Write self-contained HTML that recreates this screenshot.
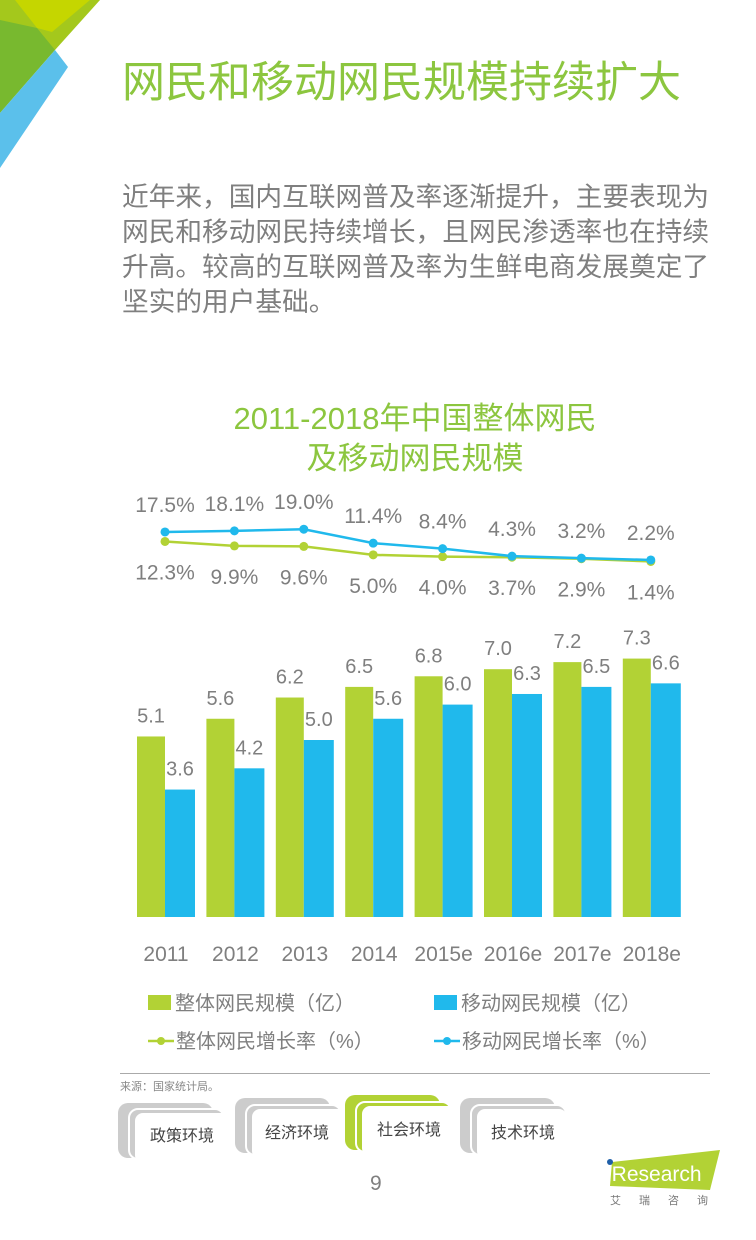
<!DOCTYPE html>
<html><head><meta charset="utf-8">
<style>
html,body{margin:0;padding:0;background:#fff;}
body{width:756px;height:1240px;position:relative;overflow:hidden;font-family:"Liberation Sans","Noto Sans CJK SC",sans-serif;}
.abs{position:absolute;white-space:nowrap;}
</style></head><body>
<svg class="abs" style="left:0;top:0" width="110" height="175">
<polygon points="0,0 100,0 55,50 0,50" fill="#a4c81c"/>
<polygon points="15,0 90,0 52,32 37,28" fill="#c5d600"/>
<polygon points="0,20 37,28 55,50 0,113" fill="#78b92f"/>
<polygon points="55,50 68,67 0,168 0,113" fill="#5bc0eb"/>
</svg>
<div class="abs" style="left:122px;top:48px;font-size:43px;color:#8cc63f;">网民和移动网民规模持续扩大</div>
<div class="abs" style="left:122px;top:180px;font-size:26.7px;line-height:35px;color:#7f7f7f;white-space:normal;width:600px;">近年来，国内互联网普及率逐渐提升，主要表现为<br>网民和移动网民持续增长，且网民渗透率也在持续<br>升高。较高的互联网普及率为生鲜电商发展奠定了<br>坚实的用户基础。</div>
<div class="abs" style="left:215px;width:400px;text-align:center;top:399px;font-size:31px;line-height:40px;color:#8cc63f;">2011-2018年中国整体网民<br>及移动网民规模</div>

<svg id="chart" class="abs" style="left:0;top:0" width="756" height="1070"></svg>

<div class="abs" style="left:148px;top:987px;font-size:20px;color:#7f7f7f;"><span style="display:inline-block;width:23px;height:15px;background:#b2d235;margin-right:4px;"></span>整体网民规模（亿）</div>
<div class="abs" style="left:434px;top:987px;font-size:20px;color:#7f7f7f;"><span style="display:inline-block;width:23px;height:15px;background:#20b9ec;margin-right:4px;"></span>移动网民规模（亿）</div>
<div class="abs" style="left:148px;top:1025px;font-size:20px;color:#7f7f7f;"><svg width="26" height="16" style="vertical-align:-1px;margin-right:2px"><line x1="0" y1="8" x2="26" y2="8" stroke="#b2d235" stroke-width="2.5"/><circle cx="13" cy="8" r="4" fill="#b2d235"/></svg>整体网民增长率（%）</div>
<div class="abs" style="left:434px;top:1025px;font-size:20px;color:#7f7f7f;"><svg width="26" height="16" style="vertical-align:-1px;margin-right:2px"><line x1="0" y1="8" x2="26" y2="8" stroke="#20b9ec" stroke-width="2.5"/><circle cx="13" cy="8" r="4" fill="#20b9ec"/></svg>移动网民增长率（%）</div>

<div class="abs" style="left:120px;top:1073px;width:590px;height:1px;background:#aaa;"></div>
<div class="abs" style="left:120px;top:1078px;font-size:11px;color:#888;">来源：国家统计局。</div>

<svg class="abs" style="left:115px;top:1095px" width="450" height="65">
<g><rect x="3" y="8" width="95" height="55" rx="10" fill="#ccc"/><rect x="14" y="14" width="95" height="50" rx="9" fill="#ccc" stroke="#fff" stroke-width="2"/><rect x="20" y="18" width="100" height="50" rx="8" fill="#fff"/><text x="35" y="46" font-size="16" fill="#444" font-family="Liberation Sans,Noto Sans CJK SC,sans-serif">政策环境</text></g>
<g><rect x="120" y="3" width="95" height="55" rx="10" fill="#ccc"/><rect x="131" y="10" width="95" height="50" rx="9" fill="#ccc" stroke="#fff" stroke-width="2"/><rect x="137" y="14" width="100" height="50" rx="8" fill="#fff"/><text x="150" y="43" font-size="16" fill="#444" font-family="Liberation Sans,Noto Sans CJK SC,sans-serif">经济环境</text></g>
<g><rect x="230" y="0" width="95" height="55" rx="10" fill="#b2d235"/><rect x="241" y="7" width="95" height="50" rx="9" fill="#b2d235" stroke="#fff" stroke-width="2"/><rect x="247" y="11" width="100" height="50" rx="8" fill="#fff"/><text x="262" y="40" font-size="16" fill="#444" font-family="Liberation Sans,Noto Sans CJK SC,sans-serif">社会环境</text></g>
<g><rect x="345" y="3" width="95" height="55" rx="10" fill="#ccc"/><rect x="356" y="10" width="95" height="50" rx="9" fill="#ccc" stroke="#fff" stroke-width="2"/><rect x="362" y="14" width="90" height="50" rx="8" fill="#fff"/><text x="376" y="43" font-size="16" fill="#444" font-family="Liberation Sans,Noto Sans CJK SC,sans-serif">技术环境</text></g>
</svg>
<div class="abs" style="left:370px;top:1172px;font-size:21px;color:#7f7f7f;">9</div>
<svg class="abs" style="left:600px;top:1148px" width="130" height="60">
<polygon points="12,14 120,2 110,42 10,38" fill="#b2d235"/>
<circle cx="10" cy="14" r="3" fill="#1f5fa8"/>
<text x="7" y="33" font-size="21" fill="#fff" font-family="Liberation Sans,sans-serif">iResearch</text>
<text x="10" y="56" font-size="11" fill="#777" letter-spacing="18" font-family="Liberation Sans,Noto Sans CJK SC,sans-serif">艾瑞咨询</text>
</svg>

<script>
const categories=["2011","2012","2013","2014","2015e","2016e","2017e","2018e"];
const totalUsers=[5.1,5.6,6.2,6.5,6.8,7.0,7.2,7.3];
const mobileUsers=[3.6,4.2,5.0,5.6,6.0,6.3,6.5,6.6];
const totalGrowth=[12.3,9.9,9.6,5.0,4.0,3.7,2.9,1.4];
const mobileGrowth=[17.5,18.1,19.0,11.4,8.4,4.3,3.2,2.2];

const svg=document.getElementById('chart');
const NS='http://www.w3.org/2000/svg';
function xC(i){return 165+i*69.4;}
function yBar(v){return 917-v*35.4;}
function yLine(v){return 564-v*1.83;}
function mk(tag,attrs){const e=document.createElementNS(NS,tag);for(const k in attrs)e.setAttribute(k,attrs[k]);svg.appendChild(e);return e;}
function txt(x,y,s,size){const t=mk('text',{x:x,y:y,'text-anchor':'middle','font-size':size,fill:'#7f7f7f','font-family':'Liberation Sans,sans-serif'});t.textContent=s;return t;}

categories.forEach((c,i)=>{
  const g=mk('rect',{x:xC(i)-28,y:yBar(totalUsers[i]),width:28,height:917-yBar(totalUsers[i]),fill:'#b2d235'});
  
  
  const b=mk('rect',{x:xC(i),y:yBar(mobileUsers[i]),width:30,height:917-yBar(mobileUsers[i]),fill:'#20b9ec'});
  
  
  const tl=txt(xC(i)-14,yBar(totalUsers[i])-14,totalUsers[i].toFixed(1),20);
  
  
  const ml=txt(xC(i)+15,yBar(mobileUsers[i])-14,mobileUsers[i].toFixed(1),20);
  
  
  const xl=txt(xC(i)+1,961,c,21);
  
  
});

function drawLine(vals,color,name,off){
  const pts=vals.map((v,i)=>xC(i)+','+yLine(v)).join(' ');
  const pl=mk('polyline',{points:pts,fill:'none',stroke:color,'stroke-width':2.5});
  
  
  vals.forEach((v,i)=>{
    const c=mk('circle',{cx:xC(i),cy:yLine(v),r:4.5,fill:color});
    
    
    const t=txt(xC(i),yLine(v)+off,v.toFixed(1)+'%',21);
    
    
  });
}
drawLine(totalGrowth,'#b2d235','total-growth',38);
drawLine(mobileGrowth,'#20b9ec','mobile-growth',-20);
</script>
</body></html>
